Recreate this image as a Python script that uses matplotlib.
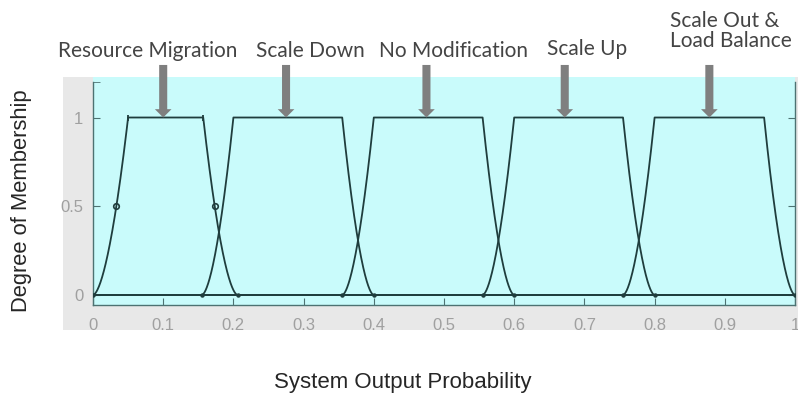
import numpy as np
import matplotlib.pyplot as plt
from matplotlib.patches import Rectangle

# Output membership functions: [a, b, c, d] = foot, shoulder, shoulder, foot
mf_names = ["Resource Migration", "Scale Down", "No Modification",
            "Scale Up", "Scale Out &\nLoad Balance"]
mf_params = [
    [0.000, 0.050, 0.157, 0.206],
    [0.155, 0.200, 0.355, 0.400],
    [0.355, 0.400, 0.555, 0.600],
    [0.555, 0.600, 0.755, 0.800],
    [0.755, 0.800, 0.956, 1.000],
]
arrow_x = [0.100, 0.275, 0.475, 0.672, 0.878]

x_ticks = [0.0, 0.1, 0.2, 0.3, 0.4, 0.5, 0.6, 0.7, 0.8, 0.9, 1.0]
x_tick_labels = ["0", "0.1", "0.2", "0.3", "0.4", "0.5", "0.6", "0.7", "0.8", "0.9", "1"]
y_ticks = [0.0, 0.5, 1.0]
y_tick_labels = ["0", "0.5", "1"]

# label placement in pixels: (x, baseline of last line, alignment)
label_pos = [(147.5, 57, "center"), (310, 57, "center"), (453, 57, "center"),
             (587, 55, "center"), (670, 47, "left")]

W, H = 798, 397
SHAPE_P = 1.7

def smooth_trap(x, a, b, c, d, p=SHAPE_P):
    rise = np.clip((x - a) / (b - a), 0, 1)
    fall = np.clip((d - x) / (d - c), 0, 1)
    return np.minimum(rise, fall) ** p

def fx(px):
    return px / W

def fy(py):
    return 1 - py / H

fig = plt.figure(figsize=(W / 100, H / 100), dpi=100, facecolor="white")

# grey figure panel and the cyan band above the axes box
fig.patches.append(Rectangle((fx(63), fy(330)), 1 - fx(63), fy(77) - fy(330),
                             transform=fig.transFigure, facecolor="#e8e8e8",
                             edgecolor="none", zorder=-10))
fig.patches.append(Rectangle((fx(93), fy(82)), fx(795) - fx(93), fy(77) - fy(82),
                             transform=fig.transFigure, facecolor="#c9fbfb",
                             edgecolor="none", zorder=-9))

ax = fig.add_axes([fx(93), fy(305), fx(795) - fx(93), fy(82) - fy(305)])
ax.set_facecolor("#c9fbfb")
ax.set_xlim(0, 1)
ax.set_ylim(-0.056, 1.2)

line_col = "#1f3d3d"
spine_col = "#4d7272"
xs = np.linspace(0, 1, 2001)
for i, (a, b, c, d) in enumerate(mf_params):
    ax.plot(xs, smooth_trap(xs, a, b, c, d), color=line_col, lw=1.3, zorder=3)
    ax.plot([a, d], [0, 0], "o", color=line_col, ms=2.2, zorder=4)
    if i == 0:
        ax.plot([b, c], [1, 1], marker="|", ls="none", color=line_col, ms=5, mew=1.3, zorder=4)
        t_half = 0.5 ** (1 / SHAPE_P)
        ax.plot([a + t_half * (b - a), d - t_half * (d - c)], [0.5, 0.5], "o",
                mfc="none", mec=line_col, ms=4, mew=1.2, zorder=4)

# arrows pointing at each membership function's plateau
for x in arrow_x:
    ax.annotate("", xy=(x, 1.0), xytext=(x, 1.296),
                arrowprops=dict(facecolor="#7f7f7f", edgecolor="none",
                                width=5.8, headwidth=12, headlength=6, shrink=0),
                annotation_clip=False, zorder=5)

for name, (px, py, ha) in zip(mf_names, label_pos):
    lines = name.split("\n")
    for k, ln in enumerate(reversed(lines)):
        fig.text(fx(px), fy(py - 20 * k), ln, ha=ha, va="baseline",
                 family="Lato", fontsize=15, color="#444444")

for side in ["left", "bottom", "right"]:
    ax.spines[side].set_color(spine_col)
    ax.spines[side].set_linewidth(1.0)
ax.spines["top"].set_visible(False)

ax.set_xticks(x_ticks)
ax.set_xticklabels(x_tick_labels)
ax.set_yticks(y_ticks)
ax.set_yticklabels(y_tick_labels)
ax.set_yticks([1.2], minor=True)
ax.tick_params(axis="both", which="both", direction="in", color=spine_col,
               labelcolor="#a0a0a0", labelsize=12, right=True)
ax.tick_params(axis="both", which="major", length=5)
ax.tick_params(axis="y", which="minor", length=5, right=False)
ax.tick_params(axis="x", pad=9)
ax.tick_params(axis="y", pad=7)
for lab in ax.get_xticklabels() + ax.get_yticklabels():
    lab.set_family("Liberation Sans")

fig.text(fx(22), fy(201), "Degree of Membership", rotation=90, ha="center", va="center",
         family="Liberation Sans", fontsize=15.8, color="#262626")
fig.text(fx(403), fy(388), "System Output Probability", ha="center", va="baseline",
         family="Liberation Sans", fontsize=16, color="#262626")

fig.savefig("out.png", dpi=100, facecolor="white")
